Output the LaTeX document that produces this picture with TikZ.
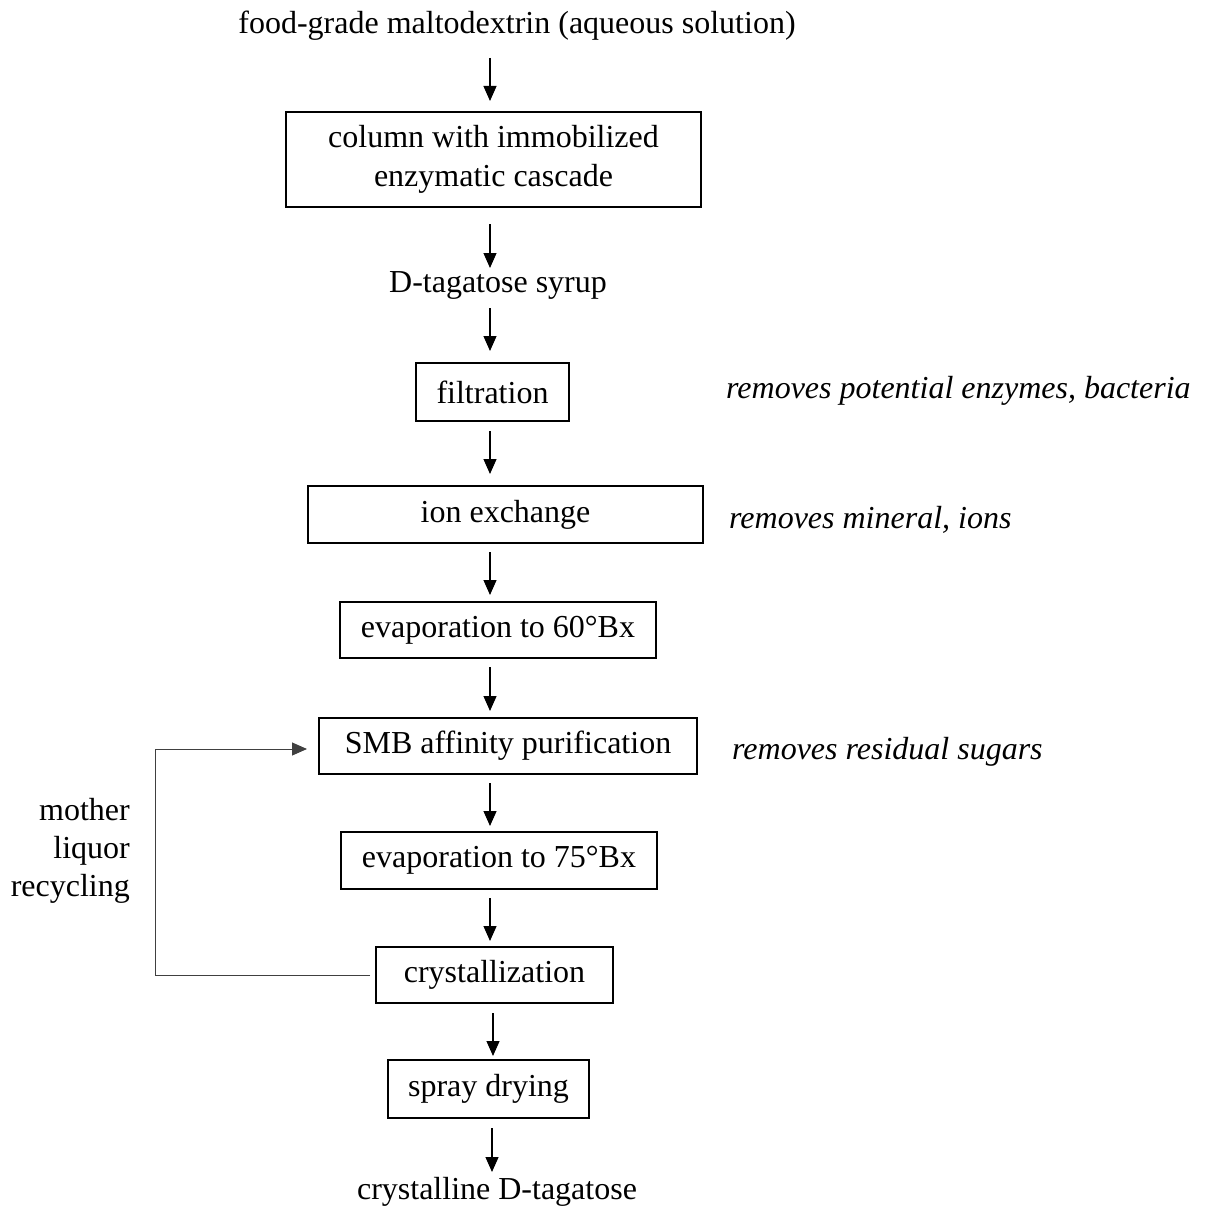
\documentclass[tikz,border=0pt]{standalone}
\usepackage{fontspec}
\setmainfont{Liberation Serif}
\usetikzlibrary{arrows.meta}
\begin{document}
\begin{tikzpicture}[x=1pt,y=-1pt,
  every node/.style={font=\fontsize{32}{38}\selectfont, inner sep=0pt},
  stepbox/.style={draw, line width=1.8pt, minimum height=57pt},
  note/.style={font=\fontsize{32}{38}\selectfont\itshape, anchor=west},
  arr/.style={line width=1.2pt, -{Triangle[length=15pt,width=13pt]}},
  rec/.style={line width=1pt, draw=black!75, -{Triangle[length=15pt,width=13pt]}}]
\useasboundingbox (0,0) rectangle (1215,1209);

\node (top) at (517,26) {food-grade maltodextrin (aqueous solution)};
\node[stepbox, minimum width=415pt, minimum height=95pt, align=center] (b1) at (493.5,159.5) {column with immobilized\\[1pt]enzymatic cascade};
\node (syrup) at (498,285) {D-tagatose syrup};
\node[stepbox, minimum width=153pt, minimum height=58pt] (filt) at (492.5,392) {filtration};
\node[note] (n1) at (726,391) {removes potential enzymes, bacteria};
\node[stepbox, minimum width=395pt] (ion) at (505.5,514.5) {ion exchange};
\node[note] (n2) at (729,520) {removes mineral, ions};
\node[stepbox, minimum width=316pt, minimum height=56pt] (ev60) at (498,630) {evaporation to 60°Bx};
\node[stepbox, minimum width=378pt, minimum height=56pt] (smb) at (508,746) {SMB affinity purification};
\node[note] (n3) at (732,752) {removes residual sugars};
\node[stepbox, minimum width=316pt] (ev75) at (499,860.5) {evaporation to 75°Bx};
\node[stepbox, minimum width=237pt, minimum height=56pt] (cry) at (494.5,975) {crystallization};
\node[stepbox, minimum width=201pt, minimum height=58pt] (spray) at (488.5,1089) {spray drying};
\node (prod) at (497,1192) {crystalline D-tagatose};
\node[align=right, anchor=east] (ml) at (130,851) {mother\\[0pt]liquor\\[0pt]recycling};

\coordinate (a1s) at (490,58);   \coordinate (a1e) at (490,101);
\coordinate (a2s) at (490,224);  \coordinate (a2e) at (490,268);
\coordinate (a3s) at (490,308);  \coordinate (a3e) at (490,351);
\coordinate (a4s) at (490,431);  \coordinate (a4e) at (490,474);
\coordinate (a5s) at (490,552);  \coordinate (a5e) at (490,595);
\coordinate (a6s) at (490,667);  \coordinate (a6e) at (490,711);
\coordinate (a7s) at (490,783);  \coordinate (a7e) at (490,826);
\coordinate (a8s) at (490,898);  \coordinate (a8e) at (490,941);
\coordinate (a9s) at (493,1013); \coordinate (a9e) at (493,1056);
\coordinate (a10s) at (492,1128); \coordinate (a10e) at (492,1172);
\foreach \i in {1,...,10} \draw[arr] (a\i s) -- (a\i e);

\coordinate (rs) at (370,975);
\coordinate (rl) at (155,975);
\coordinate (ru) at (155,749);
\coordinate (re) at (307,749);
\draw[rec] (rs) -- (rl) -- (ru) -- (re);
\end{tikzpicture}
\end{document}
